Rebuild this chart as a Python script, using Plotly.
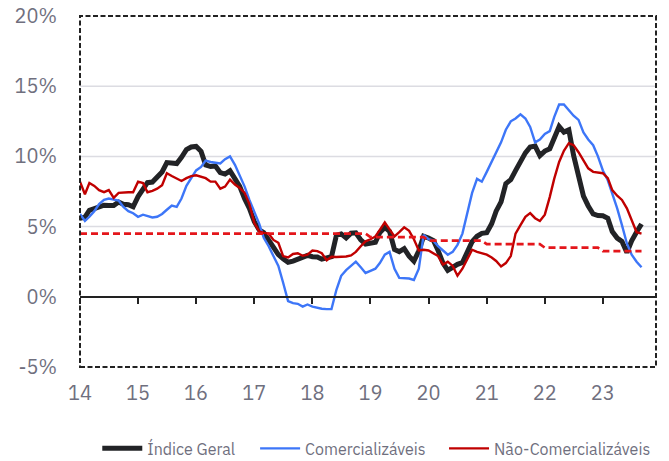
import pandas as pd
import plotly.graph_objects as go

# ---------------- data (12-month inflation, %) ----------------
start_month = "2014-01-01"

indice_geral = [
    5.59, 5.68, 6.15, 6.28, 6.37, 6.52, 6.50, 6.51, 6.75, 6.59, 6.56, 6.41,
    7.14, 7.70, 8.13, 8.17, 8.47, 8.89, 9.56, 9.53, 9.49, 9.93, 10.48, 10.67,
    10.71, 10.36, 9.39, 9.28, 9.32, 8.84, 8.74, 8.97, 8.48, 7.87, 6.99, 6.29,
    5.35, 4.76, 4.57, 4.08, 3.60, 3.00, 2.71, 2.46, 2.54, 2.70, 2.80, 2.95,
    2.86, 2.84, 2.68, 2.76, 2.86, 4.39, 4.48, 4.19, 4.53, 4.56, 4.05, 3.75,
    3.78, 3.89, 4.58, 4.94, 4.66, 3.37, 3.22, 3.43, 2.89, 2.54, 3.27, 4.31,
    4.19, 4.01, 3.30, 2.40, 1.88, 2.13, 2.31, 2.44, 3.14, 3.92, 4.31, 4.52,
    4.56, 5.20, 6.10, 6.76, 8.06, 8.35, 8.99, 9.68, 10.25, 10.67, 10.74, 10.06,
    10.38, 10.54, 11.30, 12.13, 11.73, 11.89, 10.07, 8.73, 7.17, 6.47, 5.90, 5.79,
    5.77, 5.60, 4.65, 4.18, 3.94, 3.16, 3.99, 4.61, 5.19,
]

comercializaveis = [
    5.9, 5.4, 5.7, 6.1, 6.6, 6.9, 7.0, 6.9, 6.85, 6.4, 6.1, 5.95,
    5.7, 5.85, 5.75, 5.65, 5.7, 5.9, 6.2, 6.5, 6.4, 7.0, 7.9, 8.4,
    9.0, 9.25, 9.7, 9.6, 9.55, 9.5, 9.8, 10.0, 9.4, 8.6, 7.85, 6.9,
    6.0, 5.2, 4.2, 3.6, 2.9, 2.2, 1.0, -0.3, -0.45, -0.5, -0.7, -0.55,
    -0.7, -0.8, -0.85, -0.88, -0.88, 0.5, 1.5, 1.9, 2.2, 2.5, 2.1, 1.7,
    1.85, 2.0, 2.4, 3.0, 3.2, 2.0, 1.35, 1.35, 1.3, 1.2, 2.0, 4.4,
    4.1, 4.0, 3.6, 3.3, 3.0, 3.2, 3.7, 4.5, 6.0, 7.4, 8.4, 8.2,
    8.9, 9.6, 10.2, 11.0, 11.9, 12.5, 12.7, 13.0, 12.7, 12.1, 11.0, 11.2,
    11.6, 11.8, 12.8, 13.7, 13.7, 13.3, 12.9, 12.6, 11.7, 11.2, 10.8, 10.0,
    9.0, 8.3, 7.4, 6.3, 5.1, 3.8, 3.0, 2.5, 2.1,
]

nao_comercializaveis = [
    8.2, 7.3, 8.1, 7.9, 7.6, 7.45, 7.6, 7.05, 7.4, 7.45, 7.45, 7.45,
    8.2, 8.1, 7.45, 7.55, 7.7, 7.95, 8.8, 8.6, 8.4, 8.25, 8.45, 8.6,
    8.65, 8.55, 8.45, 8.2, 8.2, 7.7, 7.85, 8.35, 8.0, 7.75, 7.4, 6.6,
    5.25, 4.65, 4.55, 4.5, 4.05, 3.85, 2.9, 2.8, 3.05, 3.1, 2.92, 3.0,
    3.3, 3.25, 3.1, 2.6, 2.85, 2.83, 2.85, 2.87, 2.95, 3.2, 3.6, 3.95,
    4.1, 4.3, 4.77, 5.3, 4.8, 4.3, 4.6, 4.95, 4.7, 4.1, 3.3, 3.35,
    3.3, 3.1, 2.9, 2.3, 2.5, 2.2, 1.5, 2.0, 2.7, 3.35, 3.2, 3.1,
    3.0, 2.8, 2.55, 2.16, 2.4, 2.9, 4.5, 5.1, 5.7, 5.96, 5.6, 5.4,
    5.85, 7.1, 8.4, 9.6, 10.4, 10.94, 10.8, 10.3, 9.7, 9.15, 8.9, 8.85,
    8.8, 8.45, 7.6, 7.2, 6.9, 6.3, 5.5, 4.6, 4.5,
]

# inflation target per calendar year
meta_anos = [2014, 2015, 2016, 2017, 2018, 2019, 2020, 2021, 2022, 2023]
meta_valores = [4.5, 4.5, 4.5, 4.5, 4.5, 4.25, 4.0, 3.75, 3.5, 3.25]

tick_years = [2014, 2015, 2016, 2017, 2018, 2019, 2020, 2021, 2022, 2023]
tick_labels = ["14", "15", "16", "17", "18", "19", "20", "21", "22", "23"]
y_ticks = [-5, 0, 5, 10, 15, 20]
y_labels = ["-5%", "0%", "5%", "10%", "15%", "20%"]
grid_levels = [5, 10, 15]

# ---------------- build ----------------
dates = pd.date_range(start_month, periods=len(indice_geral), freq="MS")
meta_map = dict(zip(meta_anos, meta_valores))
meta = [meta_map[d.year] for d in dates]
tickvals = [pd.Timestamp(f"{y}-01-01") for y in tick_years]
xrange = ["2014-01-01", "2023-12-01"]

FONT = "IBM Plex Sans, Noto Sans, Open Sans, sans-serif"
GRAY = "#6f6f7e"

fig = go.Figure()

fig.add_trace(go.Scatter(
    x=dates, y=meta, mode="lines", xaxis="x2", yaxis="y",
    line=dict(color="#e4161b", width=2.6, dash="7px,4px"),
    showlegend=False, hoverinfo="skip",
))
fig.add_trace(go.Scatter(
    x=dates, y=indice_geral, mode="lines", name="Índice Geral",
    line=dict(color="#222326", width=5), legend="legend",
))
fig.add_trace(go.Scatter(
    x=dates, y=comercializaveis, mode="lines", name="Comercializáveis",
    line=dict(color="#3d76f8", width=2.4), legend="legend2",
))
fig.add_trace(go.Scatter(
    x=dates, y=nao_comercializaveis, mode="lines", name="Não-Comercializáveis",
    line=dict(color="#c00000", width=2.4), legend="legend3",
))

for g in grid_levels:
    fig.add_shape(type="line", xref="paper", x0=0, x1=1, yref="y", y0=g, y1=g,
                  line=dict(color="#dcdce2", width=1.5), layer="below")

fig.add_shape(type="rect", xref="paper", yref="paper", x0=0, x1=1, y0=0, y1=1,
              line=dict(color="#222222", width=2, dash="5px,2.5px"), layer="above")

zero_pos = (0 - y_ticks[0]) / (y_ticks[-1] - y_ticks[0])

leg_common = dict(orientation="h", xanchor="left", y=-0.232, yanchor="middle",
                  font=dict(size=16, color=GRAY), itemwidth=40,
                  bgcolor="rgba(0,0,0,0)")

fig.update_layout(
    width=669, height=461,
    margin=dict(l=80, r=13, t=16, b=94, autoexpand=False),
    paper_bgcolor="white", plot_bgcolor="white",
    font=dict(family=FONT, color=GRAY),
    xaxis=dict(
        type="date", range=xrange, tickvals=tickvals, ticktext=tick_labels,
        showgrid=False, zeroline=False, showline=False, ticks="",
        tickfont=dict(size=20, color=GRAY), ticklabelstandoff=12,
        automargin=False,
    ),
    xaxis2=dict(
        type="date", range=xrange, overlaying="x", anchor="free", position=zero_pos,
        tickvals=tickvals, showticklabels=False, showgrid=False, zeroline=False,
        showline=True, linecolor="#222222", linewidth=1.5,
        ticks="outside", ticklen=6, tickwidth=1.5, tickcolor="#222222",
        automargin=False,
    ),
    yaxis=dict(
        range=[y_ticks[0], y_ticks[-1]], tickvals=y_ticks, ticktext=y_labels,
        showgrid=False, zeroline=False, showline=False, ticks="",
        tickfont=dict(size=20, color=GRAY), ticklabelstandoff=22,
        automargin=False,
    ),
    legend=dict(x=0.030, **leg_common),
    legend2=dict(x=0.304, **leg_common),
    legend3=dict(x=0.632, **leg_common),
)

fig.write_html(
    "out.html",
    config={"displayModeBar": False},
    post_script="document.body.style.margin='0px';document.body.style.overflow='hidden';",
)
